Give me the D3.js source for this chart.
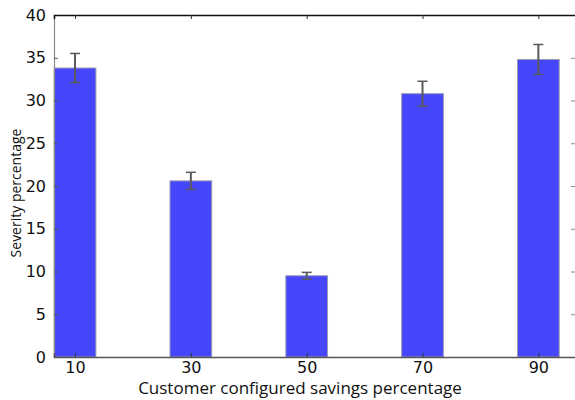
<!DOCTYPE html>
<html>
<head>
<meta charset="utf-8">
<script src="https://cdn.jsdelivr.net/npm/d3@7"></script>
<style>
  html, body { margin: 0; padding: 0; background: #fff; }
  svg { display: block; }
</style>
</head>
<body>
<svg id="chart" width="575" height="400"></svg>
<script>
// Severity by customer-configured savings level, with error bars
const categories = [10, 30, 50, 70, 90];
const severity = [33.8, 20.6, 9.5, 30.8, 34.8];
const errors = [1.7, 1.0, 0.4, 1.45, 1.75];
const yTicks = [0, 5, 10, 15, 20, 25, 30, 35, 40];

const svg = d3.select("#chart");
const plotLeft = 54, plotRight = 576, plotTop = 15, plotBottom = 357;

const x = d3.scaleLinear().domain([6.37, 96.5]).range([plotLeft, plotRight]);
const y = d3.scaleLinear().domain([0, 40]).range([plotBottom, plotTop]);
const barW = x(7.2) - x(0);

// bars
svg.append("g").selectAll("rect").data(categories).join("rect")
  .attr("x", (d) => x(d) - barW / 2)
  .attr("y", (d, i) => y(severity[i]))
  .attr("width", barW)
  .attr("height", (d, i) => y(0) - y(severity[i]))
  .attr("fill", "#4646fd")
  .attr("stroke", "#9a9ab0")
  .attr("stroke-width", 1);

// error bars
const eb = svg.append("g").attr("stroke", "#5a5a5a").attr("stroke-width", 2);
categories.forEach((c, i) => {
  const cx = x(c);
  eb.append("line").attr("x1", cx).attr("x2", cx)
    .attr("y1", y(severity[i] - errors[i])).attr("y2", y(severity[i] + errors[i]));
  [severity[i] - errors[i], severity[i] + errors[i]].forEach((v) => {
    eb.append("line").attr("x1", cx - 5).attr("x2", cx + 5)
      .attr("y1", y(v)).attr("y2", y(v)).attr("stroke-width", 1.5);
  });
});

// axes (ticks pointing inward)
const fontTicks = "DejaVu Sans";
const yAxis = svg.append("g").attr("transform", `translate(${plotLeft},0)`)
  .call(d3.axisLeft(y).tickValues(yTicks).tickSize(-4).tickPadding(8).tickFormat(d3.format("d")));
yAxis.select(".domain").attr("stroke", "#888").attr("stroke-width", 1.2);
yAxis.selectAll(".tick line").attr("stroke", "#555");
yAxis.selectAll("text").attr("font-family", fontTicks).attr("font-size", 16).attr("fill", "#111");

const yAxisR = svg.append("g").attr("transform", `translate(${plotRight},0)`)
  .call(d3.axisRight(y).tickValues(yTicks).tickSize(-5).tickFormat(""));
yAxisR.select(".domain").attr("stroke", "#ccc");
yAxisR.selectAll(".tick line").attr("stroke", "#888");

const xAxis = svg.append("g").attr("transform", `translate(0,${plotBottom})`)
  .call(d3.axisBottom(x).tickValues(categories).tickSize(-4).tickPadding(5).tickFormat(d3.format("d")));
xAxis.select(".domain").attr("stroke", "#555").attr("stroke-width", 1.5);
xAxis.selectAll(".tick line").attr("stroke", "#333");
xAxis.selectAll("text").attr("font-family", fontTicks).attr("font-size", 16).attr("fill", "#111");

const xAxisT = svg.append("g").attr("transform", `translate(0,${plotTop})`)
  .call(d3.axisTop(x).tickValues(categories).tickSize(-4).tickFormat(""));
xAxisT.select(".domain").attr("stroke", "#111").attr("stroke-width", 1.5);
xAxisT.selectAll(".tick line").attr("stroke", "#333");

// axis titles
svg.append("text")
  .attr("x", 300).attr("y", 394)
  .attr("text-anchor", "middle")
  .attr("font-family", "Open Sans")
  .attr("font-size", 17)
  .attr("fill", "#111")
  .text("Customer configured savings percentage");

svg.append("text")
  .attr("transform", "translate(21,193) rotate(-90)")
  .attr("text-anchor", "middle")
  .attr("font-family", "Open Sans")
  .attr("font-size", 14)
  .attr("fill", "#111")
  .text("Severity percentage");
</script>
</body>
</html>
